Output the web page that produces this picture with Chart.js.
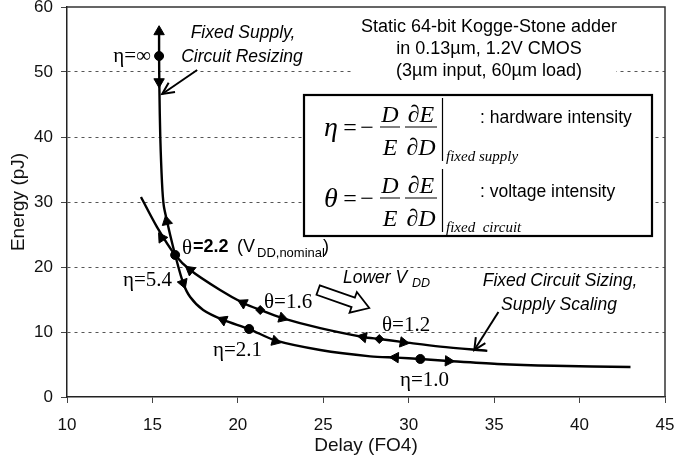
<!DOCTYPE html>
<html><head><meta charset="utf-8">
<script src="https://cdn.jsdelivr.net/npm/chart.js@4.4.1/dist/chart.umd.min.js"></script>
<style>html,body{margin:0;padding:0;background:#fff}</style>
</head><body>
<canvas id="c" width="674" height="468" style="width:674px;height:468px;display:block"></canvas>
<script>
// ---------- data ----------
const xTicks = [10, 15, 20, 25, 30, 35, 40, 45];
const yTicks = [0, 10, 20, 30, 40, 50, 60];

// Fixed supply, circuit resizing (eta curve)
const etaCurveX = [15.39, 15.39, 15.41, 15.46, 15.56, 15.66, 15.86, 16.05, 16.33, 16.80, 17.21, 17.97, 19.14, 20.66, 22.19, 24.82, 27.75, 29.30, 30.68, 32.32, 35.19, 38.50, 42.98];
const etaCurveY = [56.5, 52.46, 47.0, 40.0, 33.0, 29.5, 27.0, 24.8, 21.85, 17.54, 15.38, 13.38, 11.85, 10.46, 8.70, 7.23, 6.25, 6.05, 5.85, 5.54, 5.08, 4.80, 4.62];

// Fixed circuit sizing, supply scaling (theta curve)
const thetaCurveX = [14.33, 15.27, 16.33, 17.21, 18.96, 20.31, 21.31, 22.60, 24.82, 27.34, 28.28, 29.68, 31.85, 34.60];
const thetaCurveY = [30.77, 26.15, 21.85, 19.54, 16.46, 14.46, 13.38, 12.15, 10.60, 9.23, 8.92, 8.45, 7.75, 7.10];

// marked operating points
const dotX = [15.39, 16.33, 20.66, 30.68];
const dotY = [52.46, 21.85, 10.46, 5.85];
const diamondX = [21.31, 28.28];
const diamondY = [13.38, 8.92];

// arrowheads along the curves (position + heading in degrees)
const arrowX = [15.39, 15.39, 15.84, 16.80, 19.14, 22.19, 29.22, 32.32, 15.55, 17.21, 20.31, 22.60, 27.34, 29.68];
const arrowY = [56.2, 48.5, 27.0, 17.54, 11.85, 8.60, 6.08, 5.54, 24.5, 19.54, 14.46, 12.15, 9.23, 8.40];
const arrowAngle = [0, 180, -12, 160, -67, 106, -87, 93, -33, -52, -63, 107, -79, 99];

const pts = (xs, ys) => xs.map((v, i) => ({x: v, y: ys[i]}));

// ---------- decorations ----------
const SANS = '"Liberation Sans", Arial, sans-serif';
const SERIF = '"Liberation Serif", "Times New Roman", serif';

function openArrow(ctx, x0, y0, x1, y1) {
  const a = Math.atan2(y1 - y0, x1 - x0), L = 13, s = 0.45;
  ctx.beginPath(); ctx.moveTo(x0, y0); ctx.lineTo(x1, y1); ctx.stroke();
  ctx.beginPath();
  ctx.moveTo(x1 - L * Math.cos(a - s), y1 - L * Math.sin(a - s));
  ctx.lineTo(x1, y1);
  ctx.lineTo(x1 - L * Math.cos(a + s), y1 - L * Math.sin(a + s));
  ctx.stroke();
}

function blockArrow(ctx, x0, y0, x1, y1) {
  const a = Math.atan2(y1 - y0, x1 - x0), L = Math.hypot(x1 - x0, y1 - y0);
  const hw = 5, hh = 11, hl = 17;
  ctx.save(); ctx.translate(x0, y0); ctx.rotate(a);
  ctx.beginPath();
  ctx.moveTo(0, -hw); ctx.lineTo(L - hl, -hw); ctx.lineTo(L - hl, -hh); ctx.lineTo(L, 0);
  ctx.lineTo(L - hl, hh); ctx.lineTo(L - hl, hw); ctx.lineTo(0, hw); ctx.closePath();
  ctx.fillStyle = '#fff'; ctx.fill(); ctx.lineWidth = 1.8; ctx.strokeStyle = '#000'; ctx.stroke();
  ctx.restore();
}

function formula(ctx, sym, cy, sub) {
  ctx.fillStyle = '#000';
  ctx.textAlign = 'center'; ctx.textBaseline = 'alphabetic';
  ctx.font = 'italic 28px ' + SERIF;
  ctx.fillText(sym, 331, cy + 9);
  ctx.font = '24px ' + SERIF;
  ctx.fillText('=', 350, cy + 8);
  ctx.fillText('\u2212', 367, cy + 8);
  ctx.font = 'italic 24px ' + SERIF;
  ctx.fillText('D', 390, cy - 5);
  ctx.fillText('E', 390, cy + 28);
  ctx.fillText('\u2202E', 421, cy - 5);
  ctx.fillText('\u2202D', 421, cy + 28);
  ctx.lineWidth = 1;
  ctx.strokeStyle = '#000';
  ctx.beginPath();
  ctx.moveTo(380, cy); ctx.lineTo(400, cy);
  ctx.moveTo(405, cy); ctx.lineTo(437, cy);
  ctx.stroke();
  ctx.lineWidth = 1.2;
  ctx.beginPath(); ctx.moveTo(442.5, cy - 29); ctx.lineTo(442.5, cy + 34); ctx.stroke();
  ctx.textAlign = 'left';
  ctx.font = 'italic 15px ' + SERIF;
  ctx.fillText(sub, 446, cy + 34);
}

const deco = {
  id: 'deco',
  afterDraw(chart) {
    const {ctx, chartArea: a, scales: {x, y}} = chart;
    const px = v => x.getPixelForValue(v), py = v => y.getPixelForValue(v);
    ctx.save();
    // top and right frame lines
    ctx.strokeStyle = '#333'; ctx.lineWidth = 1.5;
    ctx.beginPath();
    ctx.moveTo(a.left, a.top); ctx.lineTo(a.right, a.top); ctx.lineTo(a.right, a.bottom);
    ctx.stroke();

    // title block (white behind the text so the grid line is hidden)
    ctx.fillStyle = '#fff';
    ctx.fillRect(352, 61, 264, 20);
    ctx.fillStyle = '#000';
    ctx.font = '18px ' + SANS; ctx.textAlign = 'center'; ctx.textBaseline = 'middle';
    ctx.fillText('Static 64-bit Kogge-Stone adder', 489, 27);
    ctx.fillText('in 0.13\u00b5m, 1.2V CMOS', 489, 49);
    ctx.fillText('(3\u00b5m input, 60\u00b5m load)', 489, 71);

    // formula box
    ctx.fillStyle = '#fff';
    ctx.fillRect(304, 95, 348, 141);
    ctx.strokeStyle = '#000'; ctx.lineWidth = 2.2;
    ctx.strokeRect(304, 95, 348, 141);
    formula(ctx, '\u03b7', 127, 'fixed supply');
    formula(ctx, '\u03b8', 198, 'fixed  circuit');
    ctx.font = '17.5px ' + SANS; ctx.textAlign = 'left'; ctx.textBaseline = 'middle';
    ctx.fillText(': hardware intensity', 480, 118);
    ctx.fillText(': voltage intensity', 480, 192);

    // italic annotations
    ctx.font = 'italic 17.5px ' + SANS; ctx.textAlign = 'center'; ctx.textBaseline = 'middle';
    ctx.fillText('Fixed Supply,', 243, 33);
    ctx.fillText('Circuit Resizing', 242, 57);
    ctx.fillText('Fixed Circuit Sizing,', 560, 281);
    ctx.fillText('Supply Scaling', 559, 305);
    ctx.textAlign = 'left';
    ctx.fillText('Lower V', 343, 278);
    ctx.font = 'italic 12.5px ' + SANS;
    ctx.fillText('DD', 412, 284);

    // greek labels
    ctx.font = '21px ' + SERIF; ctx.textBaseline = 'middle';
    ctx.textAlign = 'right';
    ctx.fillText('\u03b7=\u221e', 151, 56);
    ctx.textAlign = 'left';
    ctx.fillText('\u03b7=5.4', 123, 280);
    ctx.fillText('\u03b8=1.6', 264, 302);
    ctx.fillText('\u03b8=1.2', 382, 325);
    ctx.fillText('\u03b7=2.1', 213, 350);
    ctx.fillText('\u03b7=1.0', 400, 380);
    // nominal label
    ctx.fillText('\u03b8', 182, 248);
    ctx.font = 'bold 18px ' + SANS;
    ctx.fillText('=2.2', 193, 247);
    ctx.font = '18px ' + SANS;
    ctx.fillText('(V', 237, 247);
    ctx.font = '13px ' + SANS;
    ctx.fillText('DD,nominal', 257, 253);
    ctx.font = '18px ' + SANS;
    ctx.fillText(')', 323, 247);

    // pointer arrows (data coordinates)
    ctx.strokeStyle = '#000'; ctx.lineWidth = 2;
    openArrow(ctx, px(17.62), py(50.31), px(15.57), py(46.62));
    openArrow(ctx, px(35.25), py(13.08), px(33.84), py(7.23));
    blockArrow(ctx, px(24.70), py(16.46), px(27.69), py(13.69));
    ctx.restore();
  }
};

const fixedTicks = vals => scale => { scale.ticks = vals.map(v => ({value: v})); };
const noLabelPad = s => { s.paddingTop = 0; s.paddingBottom = 0; s.paddingLeft = 0; s.paddingRight = 0; };

new Chart(document.getElementById('c'), {
  type: 'scatter',
  data: {
    datasets: [
      {data: pts(etaCurveX, etaCurveY), showLine: true, borderColor: '#000', borderWidth: 2.4, pointRadius: 0, tension: 0.3},
      {data: pts(thetaCurveX, thetaCurveY), showLine: true, borderColor: '#000', borderWidth: 2.4, pointRadius: 0, tension: 0.3},
      {data: pts(dotX, dotY), pointStyle: 'circle', pointRadius: 4.5, backgroundColor: '#000', borderColor: '#000', borderWidth: 1},
      {data: pts(diamondX, diamondY), pointStyle: 'rectRot', pointRadius: 4.5, backgroundColor: '#000', borderColor: '#000', borderWidth: 1},
      {data: pts(arrowX, arrowY), pointStyle: 'triangle', pointRadius: 6, pointRotation: arrowAngle, backgroundColor: '#000', borderColor: '#000', borderWidth: 1}
    ]
  },
  options: {
    responsive: false, animation: false, devicePixelRatio: 1,
    layout: {padding: {top: 7, right: 9, left: 0, bottom: 0}},
    plugins: {legend: {display: false}, tooltip: {enabled: false}},
    elements: {point: {hoverRadius: 0}},
    scales: {
      x: {
        type: 'linear', min: 10, max: 45,
        afterBuildTicks: fixedTicks(xTicks),
        ticks: {font: {family: SANS, size: 17}, color: '#111', padding: 12, maxRotation: 0},
        grid: {drawOnChartArea: false, drawTicks: true, tickLength: 6, tickColor: '#444', tickWidth: 1},
        border: {color: '#222', width: 1.5},
        title: {display: true, text: 'Delay (FO4)', font: {family: SANS, size: 19}, color: '#111', padding: {top: 0, bottom: 11}},
        afterFit: s => { s.height = 71; noLabelPad(s); }
      },
      y: {
        type: 'linear', min: 0, max: 60,
        afterBuildTicks: fixedTicks(yTicks),
        ticks: {font: {family: SANS, size: 17}, color: '#111', padding: 8},
        grid: {
          color: c => (c.tick && (c.tick.value === 0 || c.tick.value === 60)) ? 'rgba(0,0,0,0)' : '#555',
          lineWidth: 1, drawTicks: true, tickLength: 6, tickColor: '#444', tickWidth: 1
        },
        border: {color: '#222', width: 1.5, dash: [3, 4]},
        title: {display: true, text: 'Energy (pJ)', font: {family: SANS, size: 19}, color: '#111', padding: {top: 7, bottom: 0}},
        afterFit: s => { s.width = 67; noLabelPad(s); }
      }
    }
  },
  plugins: [deco]
});
</script>
</body></html>
